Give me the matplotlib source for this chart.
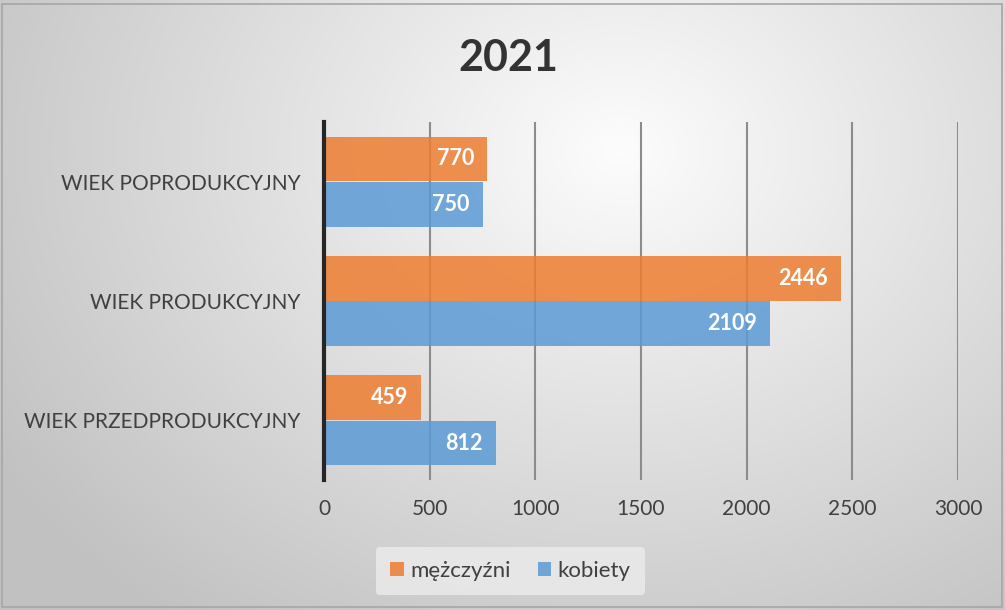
import matplotlib.pyplot as plt
import numpy as np
from matplotlib.patches import Rectangle

categories = ["WIEK PRZEDPRODUKCYJNY", "WIEK PRODUKCYJNY", "WIEK POPRODUKCYJNY"]
men = [459, 2446, 770]
women = [812, 2109, 750]
series_names = ["mężczyźni", "kobiety"]
xticks = [0, 500, 1000, 1500, 2000, 2500, 3000]

plt.rcParams['font.family'] = ['Lato', 'DejaVu Sans']

fig = plt.figure(figsize=(10.05, 6.10), dpi=100)

# radial gradient background
bg = fig.add_axes([0, 0, 1, 1], zorder=-10)
yy, xx = np.mgrid[0:610, 0:1005]
d = np.sqrt(((xx - 620) / 700.0) ** 2 + ((yy - 150) / 560.0) ** 2)
shade = np.clip(0.99 - 0.22 * d, 0.76, 0.99)
bg.imshow(np.dstack([shade, shade, shade]), extent=[0, 1005, 610, 0], aspect='auto')
bg.set_xlim(0, 1005)
bg.set_ylim(610, 0)
bg.axis('off')
bg.add_patch(Rectangle((2, 4), 1000, 603, fill=False, edgecolor='#a6a6a6', lw=1.2))

ax = fig.add_axes([0.3224, 0.2131, 0.6308, 0.587])
ax.patch.set_alpha(0)

y = np.arange(len(categories))
h = 0.375
b1 = ax.barh(y + 0.19, men, height=h, color='#ED7D31', alpha=0.85, label=series_names[0], zorder=3)
b2 = ax.barh(y - 0.19, women, height=h, color='#5B9BD5', alpha=0.85, label=series_names[1], zorder=3)

for bars in (b1, b2):
    for r in bars:
        w = r.get_width()
        ax.text(w - 60, r.get_y() + r.get_height() / 2, f"{int(w)}", ha='right', va='center',
                color='white', fontsize=15.5, fontweight='bold', zorder=4)

ax.set_xlim(0, 3000)
ax.set_ylim(-0.5, 2.5)
ax.set_xticks(xticks)
ax.set_xticklabels([str(t) for t in xticks], fontsize=15, color='#404040')
ax.set_yticks(y)
ax.set_yticklabels(categories, fontsize=15, color='#404040')
ax.tick_params(axis='both', length=0)
ax.tick_params(axis='x', pad=14)
ax.tick_params(axis='y', pad=17)
ax.grid(axis='x', color='#8c8c8c', lw=1.5, zorder=0)
for s in ['top', 'right', 'bottom']:
    ax.spines[s].set_visible(False)
ax.spines['left'].set_color('#262626')
ax.spines['left'].set_linewidth(3)
ax.spines['left'].set_zorder(5)

fig.text(0.5055, 0.905, "2021", ha='center', va='center', fontsize=31, fontweight='bold', color='#333333')

leg = fig.legend(loc='center', bbox_to_anchor=(0.508, 0.064), ncol=2, fontsize=16,
                 frameon=True, handlelength=0.6, handleheight=0.6, handletextpad=0.3,
                 columnspacing=1.2, borderpad=0.65)
leg.get_frame().set_facecolor('#ececec')
leg.get_frame().set_edgecolor('none')
leg.get_frame().set_alpha(0.8)
for t in leg.get_texts():
    t.set_color('#404040')

fig.savefig('out.png', dpi=100)
